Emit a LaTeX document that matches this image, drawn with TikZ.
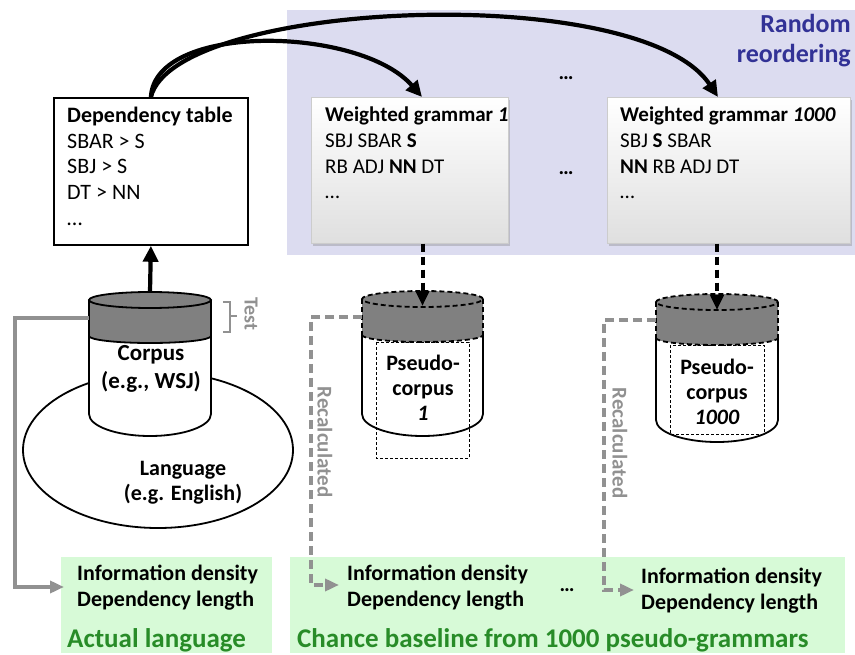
\documentclass[tikz,border=0pt]{standalone}
\usepackage{fontspec}
\setmainfont{Carlito}
\usetikzlibrary{arrows.meta,shadows}
\definecolor{lav}{RGB}{220,220,240}
\definecolor{rblue}{RGB}{50,50,150}
\definecolor{lgreen}{RGB}{215,250,215}
\definecolor{dgreen}{RGB}{40,140,40}
\definecolor{lgray}{RGB}{145,145,145}
\definecolor{bandgray}{RGB}{128,128,128}
\newcommand{\cylfill}[5]{%
  \fill[white] (#1-#2,#3) -- (#1-#2,#5) arc[start angle=180,end angle=360,x radius=#2pt,y radius=22pt] -- (#1+#2,#3) -- cycle;
}
\newcommand{\cylband}[4]{%
  \fill[bandgray] (#1-#2,#3) arc[start angle=180,end angle=0,x radius=#2pt,y radius=8pt] -- (#1+#2,#4) arc[start angle=0,end angle=-180,x radius=#2pt,y radius=7pt] -- cycle;
}
\begin{document}
\begin{tikzpicture}[x=1pt,y=-1pt,
  txt/.style={inner sep=0, align=left, font=\fontsize{21}{25.6}\selectfont},
  ctxt/.style={inner sep=0, align=center, font=\fontsize{22}{25}\selectfont\bfseries},
  bigarrow/.style={line width=4.2pt, -{Triangle[length=16pt,width=15pt]}},
  dasharrow/.style={line width=4pt, dash pattern=on 8pt off 5pt, -{Triangle[length=15pt,width=13pt]}},
  grayarrow/.style={lgray, line width=3.5pt, -{Triangle[length=14pt,width=12pt]}},
  graydash/.style={lgray, line width=3.5pt, dash pattern=on 9pt off 5pt, -{Triangle[length=14pt,width=12pt]}},
  cylline/.style={line width=1.8pt},
  cyldash/.style={line width=1.8pt, dash pattern=on 5pt off 3pt},
  gbox/.style={draw=gray!40, line width=0.6pt, top color=white, bottom color=gray!25, anchor=north west, inner sep=0,
    drop shadow={shadow xshift=1.5pt, shadow yshift=-2.5pt, opacity=0.35}},
  greenbox/.style={fill=lgreen, anchor=north west, inner sep=0},
  graytxt/.style={inner sep=0, text=lgray, font=\fontsize{21}{24}\selectfont\bfseries, rotate=-90},
  gtitle/.style={inner sep=0, anchor=west, text=dgreen, font=\fontsize{27}{30}\selectfont\bfseries},
  infotxt/.style={inner sep=0, align=left, anchor=north west, font=\fontsize{22}{26}\selectfont\bfseries}
]
\useasboundingbox (0,0) rectangle (855,655);
% lavender background
\fill[lav] (287,10) rectangle (855,255);
\node[anchor=north east, align=right, inner sep=0, text=rblue, font=\fontsize{26}{30}\selectfont\bfseries] (rr) at (851,14) {Random\\reordering};

% dependency table
\node[draw, line width=1.8pt, fill=white, minimum width=194pt, minimum height=147pt, anchor=north west, inner sep=0] (dt) at (53,97) {};
\node[txt, anchor=north west, font=\fontsize{22}{25.6}\selectfont] (dtt) at (67,107) {\textbf{Dependency table}\\SBAR > S\\SBJ > S\\DT > NN\\…};

% weighted grammars
\node[gbox, minimum width=197pt, minimum height=146pt] (wg1) at (311,97) {};
\node[txt, anchor=north west] (wg1t) at (325,107) {\textbf{Weighted grammar \textit{1}}\\SBJ SBAR \textbf{S}\\RB ADJ \textbf{NN} DT\\…};
\node[gbox, minimum width=243pt, minimum height=146pt] (wg2) at (607,97) {};
\node[txt, anchor=north west] (wg2t) at (620,107) {\textbf{Weighted grammar \textit{1000}}\\SBJ \textbf{S} SBAR\\\textbf{NN} RB ADJ DT\\…};
\node[inner sep=0, font=\fontsize{21}{24}\selectfont\bfseries] (dots1) at (566,78) {…};
\node[inner sep=0, font=\fontsize{21}{24}\selectfont\bfseries] (dots2) at (566,173) {…};

% curved arrows
\coordinate (a1) at (422,97);
\coordinate (a2) at (718,97);
\draw[bigarrow] (dt.north) .. controls (155,22) and (360,26) .. (a1);
\draw[bigarrow] (dt.north) .. controls (175,0) and (640,-20) .. (a2);

% language ellipse
\draw[cylline, fill=white] (158,450) ellipse [x radius=135pt, y radius=78pt];
\node[ctxt] (lang) at (183,483) {Language\\(e.g. English)};

% corpus cylinder
\cylfill{150}{61}{300}{336}{414}
\cylband{150}{61}{300}{336}
\draw[cylline] (150,300) ellipse [x radius=61pt, y radius=8pt];
\draw[cylline] (89,336) arc[start angle=180,end angle=360,x radius=61pt,y radius=7pt];
\draw[cylline] (89,300) -- (89,414) arc[start angle=180,end angle=360,x radius=61pt,y radius=22pt] -- (211,300);
\coordinate (c0) at (150,292);
\coordinate (c0l) at (89,318);
\node[ctxt, font=\fontsize{23}{28}\selectfont\bfseries] (corp) at (151,369) {Corpus\\(e.g., WSJ)};
\draw[bigarrow] (c0) -- (dt.south);

% test bracket
\draw[lgray, line width=2.8pt] (223,302) -- (230,302) -- (230,332) -- (223,332) (230,316) -- (237,316);
\node[graytxt, font=\fontsize{20}{24}\selectfont\bfseries] (test) at (251,314) {Test};

% pseudo-corpus 1
\cylfill{422.5}{60.5}{299}{335}{414}
\draw[densely dashed, line width=0.6pt] (376,342) rectangle (469,458);
\cylband{422.5}{60.5}{299}{335}
\draw[cyldash] (422.5,299) ellipse [x radius=60.5pt, y radius=8pt];
\draw[cyldash] (362,335) arc[start angle=180,end angle=360,x radius=60.5pt,y radius=7pt];
\draw[cyldash] (362,299) -- (362,335) (483,299) -- (483,335);
\draw[cylline] (362,335) -- (362,414) arc[start angle=180,end angle=360,x radius=60.5pt,y radius=22pt] -- (483,335);
\coordinate (p1) at (422.5,306);
\coordinate (p1l) at (362,317);
\node[ctxt] (p1t) at (423,388) {Pseudo-\\corpus\\\textit{1}};

% pseudo-corpus 1000
\cylfill{717}{61}{302}{338}{420}
\draw[densely dashed, line width=0.6pt] (670,345) rectangle (764,434);
\cylband{717}{61}{302}{338}
\draw[cyldash] (717,302) ellipse [x radius=61pt, y radius=8pt];
\draw[cyldash] (656,338) arc[start angle=180,end angle=360,x radius=61pt,y radius=7pt];
\draw[cyldash] (656,302) -- (656,338) (778,302) -- (778,338);
\draw[cylline] (656,338) -- (656,420) arc[start angle=180,end angle=360,x radius=61pt,y radius=22pt] -- (778,338);
\coordinate (p2) at (717,310);
\coordinate (p2l) at (656,320);
\node[ctxt] (p2t) at (717,392) {Pseudo-\\corpus\\\textit{1000}};

% dashed arrows down
\draw[dasharrow] (wg1.south -| p1) -- (p1);
\draw[dasharrow] (wg2.south -| p2) -- (p2);

% green boxes
\node[greenbox, minimum width=211pt, minimum height=96pt] (g1) at (61,557) {};
\node[greenbox, minimum width=555pt, minimum height=96pt] (g2) at (290,557) {};
\node[infotxt] (i1) at (77,565) {Information density\\Dependency length};
\node[infotxt] (i2) at (347,565) {Information density\\Dependency length};
\node[infotxt] (i3) at (641,568) {Information density\\Dependency length};
\node[inner sep=0, font=\fontsize{21}{24}\selectfont\bfseries] (dots3) at (567,590) {…};
\node[gtitle] (al) at (67,640) {Actual language};
\node[gtitle] (cb) at (297,640) {Chance baseline from 1000 pseudo-grammars};

% gray connectors
\coordinate (t1) at (64,587);
\coordinate (t2) at (339,585);
\coordinate (t3) at (634,590);
\draw[grayarrow] (c0l) -- (15,318) |- (t1);
\draw[graydash] (p1l) -- (311,317) |- (t2);
\draw[graydash] (p2l) -- (604,320) |- (t3);
\node[graytxt] (rc1) at (325,442) {Recalculated};
\node[graytxt] (rc2) at (620,443) {Recalculated};
\end{tikzpicture}
\end{document}
